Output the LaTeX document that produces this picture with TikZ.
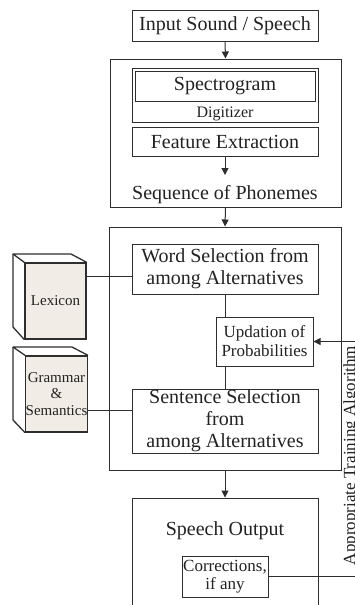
\documentclass[tikz,border=0pt]{standalone}
\usepackage{fontspec}
\setmainfont{Liberation Serif}
\usetikzlibrary{arrows.meta}
\definecolor{ink}{HTML}{2E2E2E}
\definecolor{txt}{HTML}{222222}
\definecolor{page}{HTML}{F1EDE6}
\tikzset{
  box/.style={draw=ink, line width=1pt, inner sep=0pt, align=center, text=txt},
  plain/.style={inner sep=0pt, align=center, text=txt},
  bookface/.style={draw=ink, line width=1.3pt, fill=page, inner sep=0pt, align=center, text=txt},
  bookline/.style={draw=ink, line width=1.3pt, line join=round},
  conn/.style={draw=ink, line width=1pt},
  arr/.style={conn, -{Triangle[length=7pt,width=7pt]}},
  big/.style={font=\fontsize{20}{22}\selectfont},
}
\begin{document}
\begin{tikzpicture}[x=1pt,y=-1pt]
\useasboundingbox (0,0) rectangle (354,605);
% top
\node[box, big, minimum width=186pt, minimum height=31pt] (inp) at (225,25.5) {Input Sound / Speech};
% stage 1
\node[box, minimum width=231pt, minimum height=148pt] (stage1) at (225.5,133) {};
\node[box, minimum width=186pt, minimum height=54pt] (digit) at (225,95) {};
\node[box, big, minimum width=180pt, minimum height=30pt] (spect) at (225,86) {Spectrogram};
\node[plain, font=\fontsize{16}{18}\selectfont, anchor=base] (digitlbl) at (225,117) {Digitizer};
\node[box, big, minimum width=186pt, minimum height=29pt] (feat) at (225,141.5) {Feature Extraction};
\node[plain, big, anchor=base] (seq) at (225,199) {Sequence of Phonemes};
% stage 2
\node[box, minimum width=232pt, minimum height=243pt] (stage2) at (225,348.5) {};
\node[box, big, minimum width=186pt, minimum height=50pt] (word) at (225,269) {Word Selection from\\among Alternatives};
\node[box, minimum width=97pt, minimum height=49pt, font=\fontsize{17}{19}\selectfont] (upd) at (264.5,341.5) {Updation of\\Probabilities};
\node[box, big, minimum width=186pt, minimum height=64pt] (sent) at (225,421) {Sentence Selection\\from\\among Alternatives};
% output
\node[box, minimum width=186pt, minimum height=122pt] (out) at (225,559) {};
\node[plain, big, anchor=base] (outlbl) at (225,535) {Speech Output};
\node[box, minimum width=86pt, minimum height=41pt, font=\fontsize{17}{18}\selectfont] (corr) at (225,576.5) {Corrections,\\if any};
% books
\node[bookface, minimum width=61pt, minimum height=76pt, font=\fontsize{15}{17}\selectfont] (lex) at (55.5,301) {Lexicon};
\draw[bookline] (lex.north west) -- (13,254) -- (71,254) -- (lex.north east);
\draw[bookline] (13,254) -- (13,327) -- (lex.south west);
\node[bookface, minimum width=61pt, minimum height=76pt, font=\fontsize{15}{16.5}\selectfont] (gram) at (56.5,394) {Grammar\\\&\\Semantics};
\draw[bookline] (gram.north west) -- (13,347) -- (72,347) -- (gram.north east);
\draw[bookline] (13,347) -- (13,420) -- (gram.south west);
% connectors
\draw[arr] (inp.south) -- (stage1.north);
\draw[arr] (feat.south) -- (225,175);
\draw[arr] (stage1.south) -- (stage2.north);
\draw[arr] (stage2.south) -- (out.north);
\draw[conn] (word.south) -- (word.south |- upd.north);
\draw[conn] (word.south |- upd.south) -- (word.south |- sent.north);
\draw[conn] ([yshift=25pt]lex.east) -- ([yshift=25pt]lex.east -| word.west);
\draw[conn] ([yshift=-16pt]gram.east) -- ([yshift=-16pt]gram.east -| sent.west);
\coordinate (fbbot) at (358,576.5);
\draw[arr] (corr.east) -- (fbbot) |- (upd.east);
\node[plain, font=\fontsize{17}{19}\selectfont, rotate=90, anchor=base] (alg) at (355,455.5) {Appropriate Training Algorithm};
\end{tikzpicture}
\end{document}
